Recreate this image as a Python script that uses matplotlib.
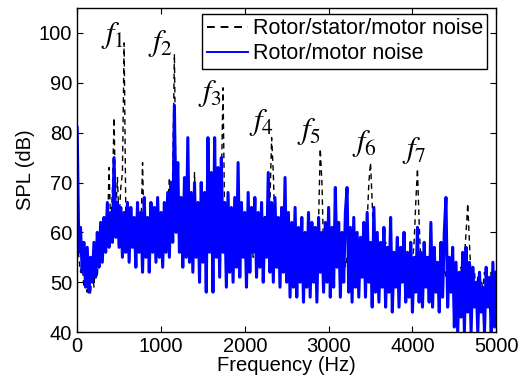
import numpy as np
import matplotlib
matplotlib.use('Agg')
import matplotlib.pyplot as plt

plt.rcParams['font.family'] = ['Liberation Sans', 'DejaVu Sans']
plt.rcParams['mathtext.fontset'] = 'stix'

# === DATA (20 Hz step from 0 to 5000 Hz) ===
rotor_motor_spl = [
    81, 56, 61, 52, 58, 49, 57, 48, 55, 50,
    58, 51, 60, 53, 62, 54, 63, 56, 66, 57,
    64, 58, 75, 59, 66, 57, 65, 55, 64, 56,
    66, 54, 65, 57, 63, 53, 66, 56, 64, 52,
    67, 55, 63, 52, 66, 56, 65, 54, 67, 55,
    64, 53, 66, 56, 68, 55, 70, 58, 85.5, 60,
    74, 56, 67, 53, 71, 55, 79, 54, 68, 52,
    70, 55, 66, 50, 70, 54, 68, 48, 79, 56,
    72, 48, 79, 55, 73, 51, 75, 56, 66, 49,
    68, 52, 65, 50, 67, 53, 74, 51, 66, 55,
    64, 49, 68, 52, 65, 56, 67, 51, 64, 53,
    66, 50, 63, 55, 72, 52, 66, 50, 67, 53,
    63, 49, 65, 52, 71, 50, 64, 47, 62, 49,
    65, 47, 61, 50, 63, 46, 60, 49, 64, 47,
    62, 50, 61, 46, 63, 52, 60, 48, 62, 50,
    65, 47, 61, 49, 69, 53, 62, 47, 60, 50,
    64, 69, 48, 61, 46, 63, 49, 60, 47, 59,
    51, 62, 47, 64, 50, 58, 45, 65, 48, 60,
    46, 58, 49, 61, 45, 57, 48, 63, 44, 56,
    49, 59, 45, 57, 50, 60, 46, 56, 47, 58,
    44, 55, 48, 61, 46, 56, 45, 58, 49, 55,
    46, 62, 45, 57, 48, 54, 44, 58, 47, 60,
    67, 45, 55, 48, 57, 41, 54, 40, 52, 43,
    56, 40, 57, 44, 54, 40, 53, 45, 50, 40,
    52, 44, 49, 40, 53, 45, 51, 40, 54, 41,
    52,
]
rotor_stator_motor_spl = [
    60, 55, 52, 54, 49, 51, 48, 52, 47.5, 53,
    49, 55, 51, 57, 54, 59, 56, 62, 58, 73,
    61, 68, 83, 64, 71, 62, 69, 72, 98, 64,
    63, 58, 61, 57, 60, 56, 59, 57, 60, 74,
    58, 61, 57, 60, 58, 61, 56, 60, 57, 61,
    57, 60, 58, 62, 65, 71, 66, 72, 95.8, 66,
    62, 58, 61, 57, 60, 58, 61, 57, 59, 58,
    72, 58, 61, 56, 59, 57, 60, 56, 60, 57,
    60, 58, 61, 57, 60, 58, 70, 89, 62, 57,
    59, 56, 58, 57, 60, 56, 59, 55, 58, 56,
    59, 55, 58, 56, 59, 55, 58, 56, 59, 55,
    58, 56, 59, 57, 60, 66, 79, 72, 60, 56,
    58, 54, 57, 55, 58, 54, 57, 53, 56, 54,
    57, 54, 56, 55, 57, 60, 54, 56, 53, 55,
    54, 56, 54, 56, 62, 76.8, 70, 56, 54, 56,
    53, 55, 54, 60, 54, 56, 53, 55, 54, 56,
    53, 55, 53, 56, 52, 55, 53, 55, 52, 54,
    53, 55, 54, 62, 70, 74, 66, 57, 53, 54,
    52, 55, 53, 54, 58, 52, 54, 52, 55, 51,
    53, 52, 54, 51, 53, 52, 54, 51, 53, 52,
    54, 58, 66, 72.8, 62, 54, 51, 53, 51, 54,
    50, 53, 50, 53, 51, 54, 50, 52, 50, 53,
    51, 54, 50, 52, 50, 53, 49, 52, 50, 53,
    49, 55, 60, 65.8, 58, 51, 49, 52, 48, 51,
    47, 50, 49, 52, 47, 50, 48, 52, 46, 50,
    48,
]
freq_hz = np.linspace(0, 5000, len(rotor_motor_spl))

peak_labels = ['$f_1$', '$f_2$', '$f_3$', '$f_4$', '$f_5$', '$f_6$', '$f_7$']
peak_label_freq = [420, 1000, 1589, 2196, 2768, 3434, 4018]
peak_label_spl = [99.4, 97.8, 87.8, 82, 80.2, 77.8, 76.4]

# === PLOT ===
fig = plt.figure(figsize=(5.18, 3.83), dpi=100)
ax = fig.add_axes([0.149, 0.133, 0.809, 0.846])

ax.plot(freq_hz, rotor_stator_motor_spl, color='black', linestyle=(0, (4, 3)),
        linewidth=1.0, label='Rotor/stator/motor noise')
ax.plot(freq_hz, rotor_motor_spl, color='blue', linewidth=2.2,
        label='Rotor/motor noise')

for lab, fx, fy in zip(peak_labels, peak_label_freq, peak_label_spl):
    ax.text(fx, fy, lab, fontsize=22, ha='center', va='center')

ax.set_xlim(0, 5000)
ax.set_ylim(40, 105)
ax.set_xticks(np.arange(0, 5001, 1000))
ax.set_yticks(np.arange(40, 101, 10))
ax.tick_params(direction='in', top=True, right=True, length=4, labelsize=14.5)
for sp in ax.spines.values():
    sp.set_linewidth(1.0)
ax.set_xlabel('Frequency (Hz)', fontsize=14.5, labelpad=0)
ax.set_ylabel('SPL (dB)', fontsize=14.5, labelpad=3)

leg = ax.legend(loc='upper right', bbox_to_anchor=(0.979, 0.982),
                fontsize=15.5, fancybox=False, framealpha=1,
                edgecolor='black', borderaxespad=0, handlelength=1.9,
                handletextpad=0.25, labelspacing=0.2, borderpad=0.2)
leg.get_frame().set_linewidth(1.0)
for line in leg.get_lines():
    line.set_linewidth(1.4)

fig.savefig('out.png', dpi=100)
